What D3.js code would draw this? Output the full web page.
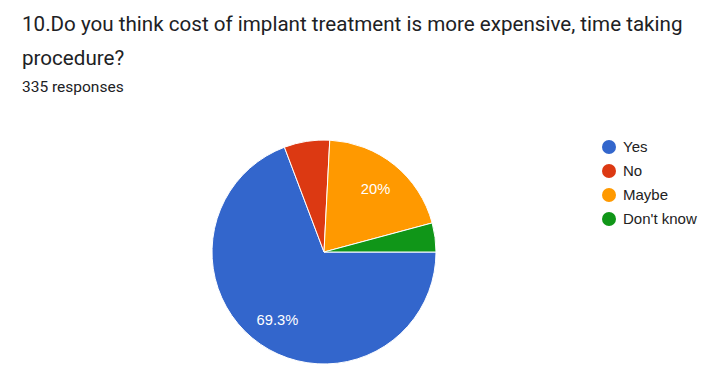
<!DOCTYPE html>
<html><head><meta charset="utf-8">
<script src="https://cdn.jsdelivr.net/npm/d3@7"></script>
<style>
html,body{margin:0;padding:0;background:#fff;}
svg{display:block;}
</style></head>
<body>
<svg id="chart" width="715" height="383"></svg>
<script>
const titleLines = ["10.Do you think cost of implant treatment is more expensive, time taking", "procedure?"];
const subtitle = "335 responses";
const categories = ["Yes", "No", "Maybe", "Don't know"];
const counts = [232, 22, 67, 14];
const colors = ["#3366cc", "#dc3912", "#ff9900", "#109618"];
const total = d3.sum(counts);

const svg = d3.select("#chart");
const title = svg.append("text")
  .attr("font-family", "Roboto, sans-serif").attr("font-size", 20.6).attr("fill", "#202124");
titleLines.forEach((t, i) => title.append("tspan").attr("x", 22).attr("y", 31 + i * 34).text(t));
svg.append("text").attr("x", 22).attr("y", 92).attr("font-family", "Roboto, sans-serif")
  .attr("font-size", 15.5).attr("fill", "#202124").text(subtitle);

const cx = 324, cy = 252, R = 112;
const pie = d3.pie().sort(null).startAngle(Math.PI / 2).endAngle(Math.PI / 2 + 2 * Math.PI);
const arcs = pie(counts);
const arc = d3.arc().innerRadius(0).outerRadius(R);
const labelArc = d3.arc().innerRadius(82).outerRadius(82);
const g = svg.append("g").attr("transform", `translate(${cx},${cy})`);
g.selectAll("path").data(arcs).join("path")
  .attr("d", arc).attr("fill", (d, i) => colors[i])
  .attr("stroke", "#fff").attr("stroke-width", 1);
g.selectAll("text").data(arcs.filter(d => d.data / total >= 0.1)).join("text")
  .attr("transform", d => `translate(${labelArc.centroid(d)})`)
  .attr("text-anchor", "middle").attr("dy", "0.36em")
  .attr("font-family", "Arial, 'Liberation Sans', sans-serif").attr("font-size", 14.7)
  .attr("fill", "#fff")
  .text(d => { const p = d.data / total * 100; return (Math.round(p * 10) / 10) + "%"; });

const legend = svg.append("g").attr("transform", "translate(609,147)");
const items = legend.selectAll("g").data(categories).join("g")
  .attr("transform", (d, i) => `translate(0,${i * 24})`);
items.append("circle").attr("r", 7).attr("fill", (d, i) => colors[i]);
items.append("text").attr("x", 14).attr("dy", "0.36em")
  .attr("font-family", "Arial, 'Liberation Sans', sans-serif").attr("font-size", 15)
  .attr("fill", "#222").text(d => d);
</script>
</body></html>
